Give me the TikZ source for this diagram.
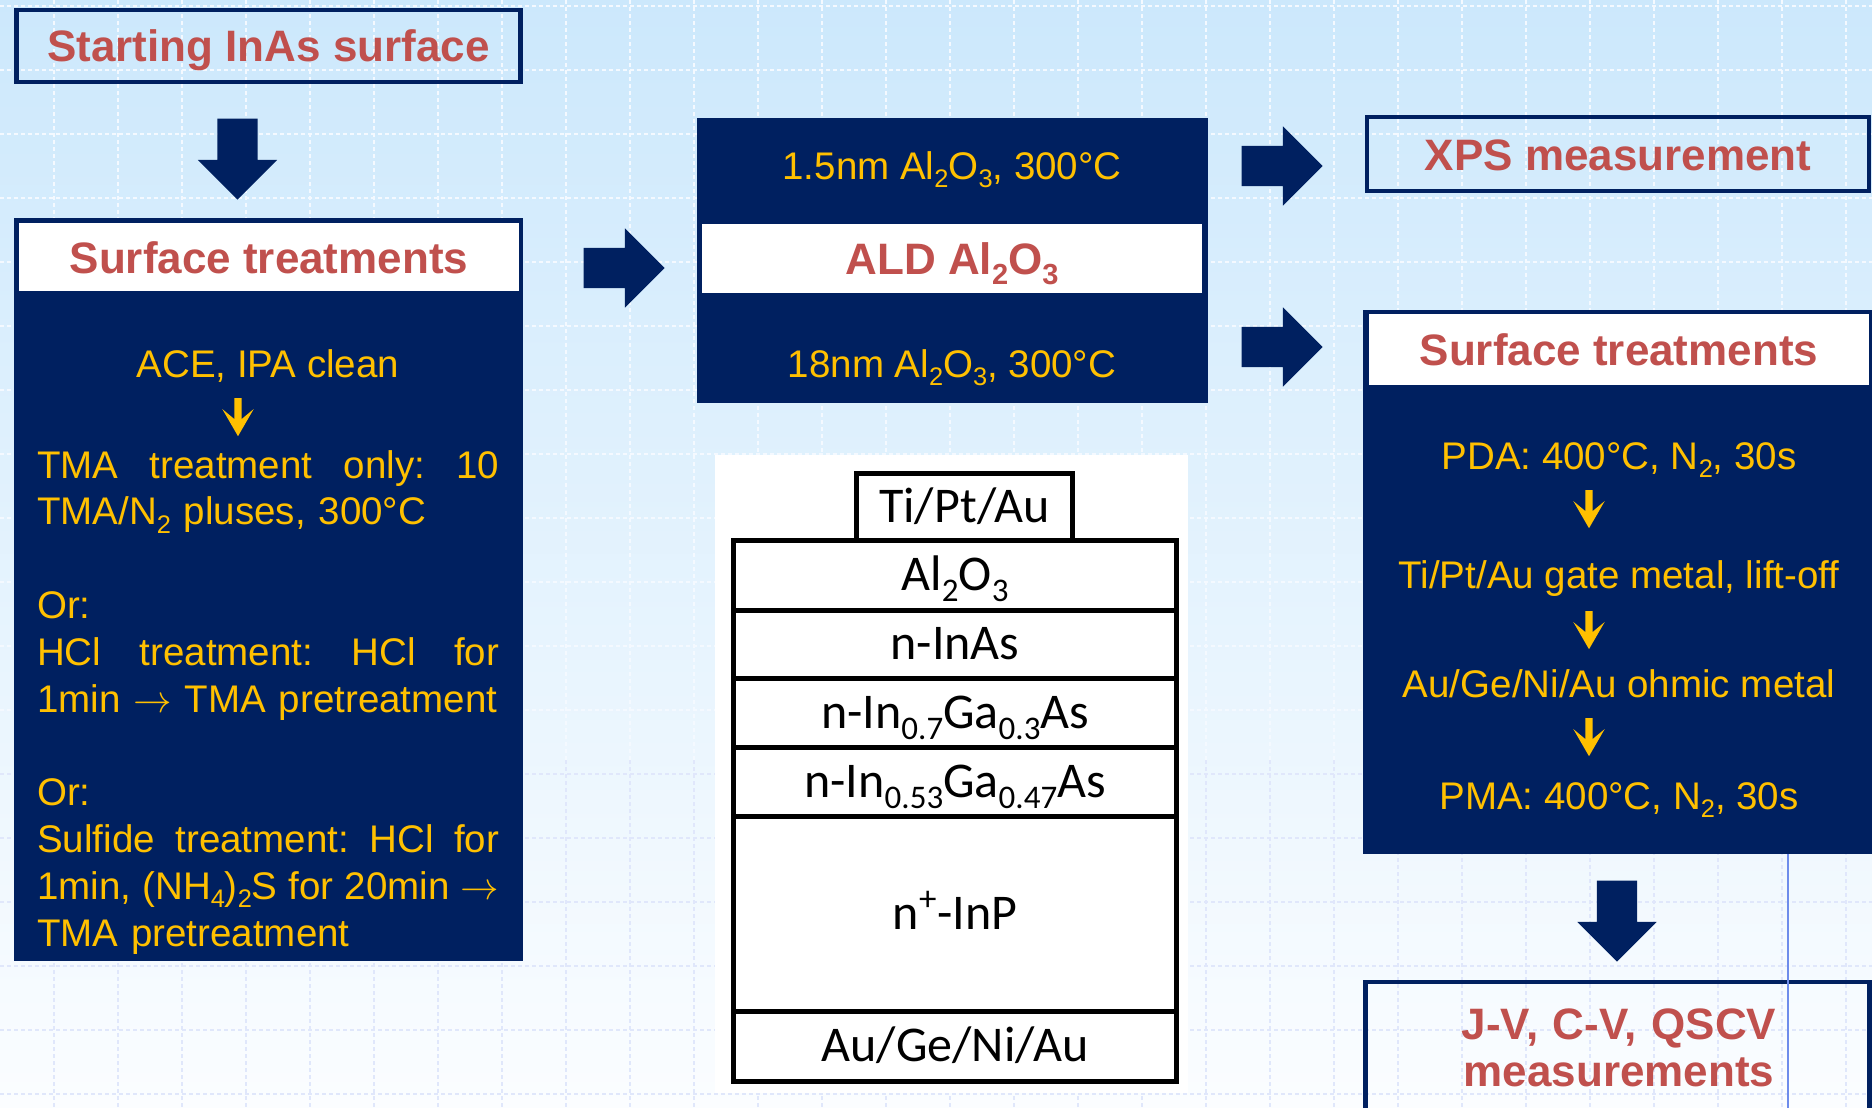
\RequirePackage{fix-cm}
\documentclass[tikz,border=0pt]{standalone}
\usepackage{graphicx}
\usepackage{fontspec}
\setmainfont{Liberation Sans}
\newfontfamily\calibrifont{Carlito}
\usetikzlibrary{shapes.arrows}

\newcommand\chemsub[1]{\raisebox{-0.22em}{\scalebox{0.66}{#1}}}

\definecolor{navy}{RGB}{0,32,96}
\definecolor{gold}{RGB}{255,192,0}
\definecolor{brick}{RGB}{192,80,77}
\definecolor{skytop}{RGB}{204,232,252}
\definecolor{skybot}{RGB}{251,253,255}
\definecolor{gridwhite}{RGB}{244,249,255}
\definecolor{gridlilac}{RGB}{224,231,251}
\definecolor{seamblue}{RGB}{110,140,235}

\tikzset{
  outlinebox/.style={draw=navy, line width=4.5pt, text=brick, inner sep=0pt,
    font=\bfseries\fontsize{44}{50}\selectfont, text height=32pt, text depth=0pt},
  panel/.style={fill=navy, inner sep=0pt},
  header/.style={fill=white, text=brick, inner sep=0pt,
    font=\bfseries\fontsize{44}{50}\selectfont, text height=32pt, text depth=0pt},
  yellowtext/.style={text=gold, inner sep=0pt, font=\fontsize{38.5}{46.8}\selectfont},
  blockarrow/.style={single arrow, fill=navy, inner sep=20pt, minimum height=81pt,
    single arrow head extend=19.5pt},
  stepdown/.style={single arrow, fill=gold, inner sep=3.5pt, minimum height=38pt,
    single arrow head extend=12pt, single arrow tip angle=60,
    single arrow head indent=10pt, shape border rotate=270},
  stacklayer/.style={draw, line width=5pt, minimum width=443pt, inner sep=0pt,
    font=\calibrifont\fontsize{50}{56}\selectfont, text height=31pt, text depth=0pt},
  gridline/.style={line width=2pt, dash pattern=on 4pt off 3pt}
}

\begin{document}
\begin{tikzpicture}[x=1pt, y=-1pt]

  % --- Background (gradient and dashed grid) ---
  \useasboundingbox (0,0) rectangle (1872,1108);
  \fill[top color=skytop, bottom color=skybot] (0,0) rectangle (1872,1108);
  \foreach \gx in {54,118,...,1846} {
    \draw[gridline, gridwhite] (\gx,0) -- (\gx,760);
    \draw[gridline, gridlilac] (\gx,760) -- (\gx,1108);
  }
  \foreach \gy in {6,70,...,710}
    \draw[gridline, gridwhite] (0,\gy) -- (1872,\gy);
  \foreach \gy in {774,838,...,1094}
    \draw[gridline, gridlilac] (0,\gy) -- (1872,\gy);

  % --- Left column ---
  \node[outlinebox, minimum width=504pt, minimum height=72pt] (start) at (268.5,46) {Starting InAs surface};
  \node[blockarrow, shape border rotate=270] (arrS) at (237.5,149) {};
  \node[panel, minimum width=509pt, minimum height=743pt] (surfL) at (268.5,589.5) {};
  \node[header, minimum width=500pt, minimum height=68pt] (hdrL) at (269,257) {Surface treatments};
  \node[yellowtext, anchor=base] (ace) at (268,377) {ACE, IPA clean};
  \node[stepdown] (stepL) at (238,414) {};
  \node[yellowtext, text width=462pt, align=left, anchor=base west] (recipes) at (37,478) {%
    TMA\hfill treatment\hfill only:\hfill 10\\
    TMA/N\chemsub{2} pluses, 300°C\\[46.8pt]
    Or:\\
    HCl\hfill treatment:\hfill HCl\hfill for\\
    1min $\rightarrow$ TMA pretreatment\\[46.8pt]
    Or:\\
    Sulfide\hfill treatment:\hfill HCl\hfill for\\
    1min,\hfill (NH\chemsub{4})\chemsub{2}S\hfill for\hfill 20min\hfill $\rightarrow$\\
    TMA pretreatment};

  % --- ALD block ---
  \node[blockarrow] (arrL) at (614,268) {};
  \node[panel, minimum width=511pt, minimum height=285pt] (ald) at (952.5,260.5) {};
  \node[header, minimum width=500pt, minimum height=69pt] (hdrA) at (952,258.5) {ALD Al\chemsub{2}O\chemsub{3}};
  \node[yellowtext, anchor=base] (thinox) at (952,179) {1.5nm Al\chemsub{2}O\chemsub{3}, 300°C};
  \node[yellowtext, anchor=base] (thickox) at (952,377) {18nm Al\chemsub{2}O\chemsub{3}, 300°C};

  % --- Device cross-section ---
  \node[fill=white, minimum width=473pt, minimum height=638pt, inner sep=0pt] (stackbg) at (951.5,774) {};
  \node[stacklayer, minimum width=216pt, minimum height=67pt] (gatemetal) at (964.5,506.5) {Ti/Pt/Au};
  \node[stacklayer, minimum height=70pt] (oxide) at (955,575) {Al\chemsub{2}O\chemsub{3}};
  \node[stacklayer, minimum height=68pt] (inas) at (955,644) {n-InAs};
  \node[stacklayer, minimum height=69pt] (ingaA) at (955,712.5) {n-In\chemsub{0.7}Ga\chemsub{0.3}As};
  \node[stacklayer, minimum height=69pt] (ingaB) at (955,781.5) {n-In\chemsub{0.53}Ga\chemsub{0.47}As};
  \node[stacklayer, minimum height=195pt] (inp) at (955,913.5) {n\textsuperscript{+}-InP};
  \node[stacklayer, minimum height=70pt] (ohmicmetal) at (955,1046) {Au/Ge/Ni/Au};

  % --- Right column ---
  \node[blockarrow] (arrX) at (1272,166) {};
  \node[blockarrow] (arrT) at (1272,347) {};
  \node[outlinebox, minimum width=502pt, minimum height=74pt] (xps) at (1618,154) {XPS measurement};
  \node[panel, minimum width=511pt, minimum height=544pt] (surfR) at (1618.5,582) {};
  \node[header, minimum width=500pt, minimum height=71pt] (hdrR) at (1619,349.5) {Surface treatments};
  \node[yellowtext, anchor=base] (pda) at (1619,469) {PDA: 400°C, N\chemsub{2}, 30s};
  \node[stepdown] (stepR1) at (1589,506) {};
  \node[yellowtext, anchor=base] (gate) at (1619,588) {Ti/Pt/Au gate metal, lift-off};
  \node[stepdown] (stepR2) at (1589,627) {};
  \node[yellowtext, anchor=base] (ohmic) at (1619,697) {Au/Ge/Ni/Au ohmic metal};
  \node[stepdown] (stepR3) at (1589,734) {};
  \node[yellowtext, anchor=base] (pma) at (1619,809) {PMA: 400°C, N\chemsub{2}, 30s};
  \node[blockarrow, shape border rotate=270] (arrJ) at (1617,911) {};
  \node[outlinebox, minimum width=504pt, minimum height=148pt] (jv) at (1617.5,1056) {};
  \node[text=brick, inner sep=0pt, font=\bfseries\fontsize{44}{47}\selectfont,
    text width=480pt, align=center, anchor=base] (jvtext) at (1619,1039) {J-V, C-V, QSCV\\measurements};
  \coordinate (seam) at (1788,1108);
  \draw[seamblue, line width=1.5pt] (surfR.south -| seam) -- (seam);

\end{tikzpicture}
\end{document}
